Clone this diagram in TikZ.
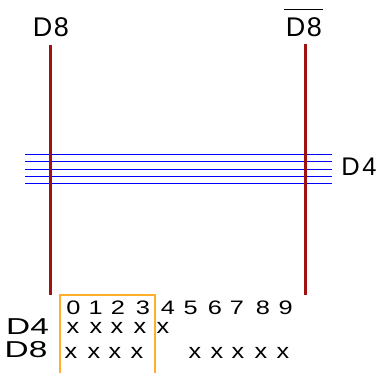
\documentclass[tikz,border=0pt]{standalone}
\usepackage{fontspec}
\setmainfont{Liberation Sans}
\definecolor{wirered}{RGB}{160,18,18}
\definecolor{boxorange}{RGB}{255,176,40}
\begin{document}
\begin{tikzpicture}[x=1pt,y=1pt,
  lbl/.style={inner sep=0pt,font=\fontsize{27}{27}\selectfont},
  rowlbl/.style={inner sep=0pt,font=\fontsize{23}{23}\selectfont,xscale=1.45,transform shape},
  digit/.style={inner sep=0pt,font=\fontsize{19.5}{19.5}\selectfont,xscale=1.3,transform shape},
  xmark/.style={inner sep=0pt,font=\fontsize{21}{21}\selectfont,xscale=1.2,transform shape},
  redwire/.style={draw=wirered,line width=3pt},
  bluewire/.style={draw=blue,line width=0.9pt}]
\useasboundingbox (0,0) rectangle (380,374);
% labels
\node[lbl] (d8l) at (51,347) {D\kern1.5pt8};
\node[lbl] (d8r) at (304,347) {D\kern1.5pt8};
\draw[line width=1pt] ([xshift=-1.5pt,yshift=7.5pt]d8r.north west) -- ([xshift=1pt,yshift=7.5pt]d8r.north east);
\node[lbl,font=\fontsize{25.5}{25.5}\selectfont] (d4r) at (359,207) {D\kern2.5pt4};
% red wires
\coordinate (lt) at (50.5,329); \coordinate (lb) at (50.5,79);
\coordinate (rt) at (305,330); \coordinate (rb) at (305,79);
% blue wires
\foreach \y [count=\i] in {220,213,205,198,191}{
  \coordinate (bl\i) at (25,\y); \coordinate (br\i) at (332,\y);
  \draw[bluewire] (bl\i) -- (br\i);
}
\draw[redwire] (lt) -- (lb);
\draw[redwire] (rt) -- (rb);
% orange box
\coordinate (o1) at (60,1); \coordinate (o2) at (60,79);
\coordinate (o3) at (155,79); \coordinate (o4) at (155,1);
\draw[boxorange,line width=1.3pt] (o1) -- (o2) -- (o3) -- (o4);
% digits
\foreach \x [count=\i from 0] in {73.3,95.7,118,143,168,190.7,215,237,263,285.7}{
  \node[digit] (dg\i) at (\x,66) {\i};
}
% row labels
\node[rowlbl] (r4) at (27.5,47) {D4};
\node[rowlbl] (r8) at (26,24) {D8};
% marks
\foreach \x [count=\i] in {73,96,117,140,163}{
  \node[xmark] (m4\i) at (\x,46) {x};
}
\foreach \x [count=\i] in {71,94,115,137,195,217,238,261,283}{
  \node[xmark] (m8\i) at (\x,21) {x};
}
\end{tikzpicture}
\end{document}
